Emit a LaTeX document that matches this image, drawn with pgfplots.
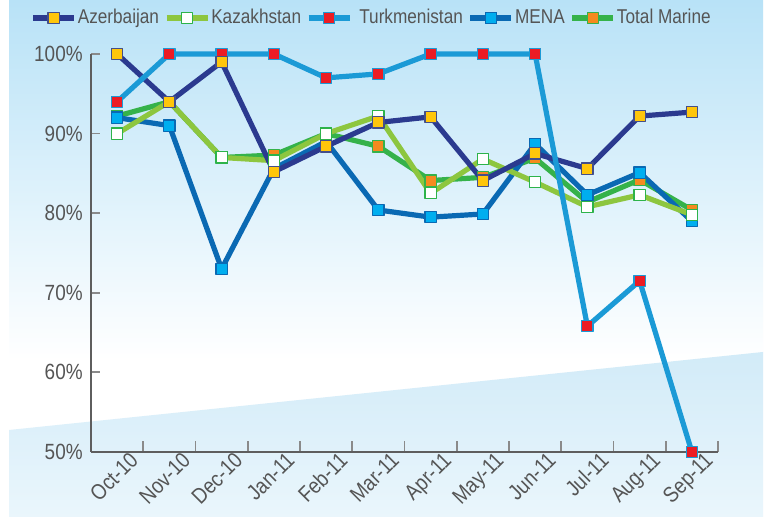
\documentclass[border=0pt]{standalone}
\usepackage{fontspec}
\setmainfont[FakeStretch=0.86]{Liberation Sans}
\usepackage{pgfplots}
\pgfplotsset{compat=1.18}
\usepackage{pgfplotstable}

\definecolor{bgtop}{HTML}{B8E2F7}
\definecolor{wedgetop}{HTML}{D2EBF8}
\definecolor{wedgebot}{HTML}{EAF6FC}
\definecolor{axgray}{HTML}{5E5E5E}
\definecolor{tkgray}{HTML}{8A8A8A}
\definecolor{labgray}{HTML}{555555}
\definecolor{azl}{HTML}{2B3A8F}
\definecolor{azm}{HTML}{FFC60B}
\definecolor{kzl}{HTML}{8DC63F}
\definecolor{kzb}{HTML}{2DB34A}
\definecolor{tkl}{HTML}{1B9AD6}
\definecolor{tkm}{HTML}{EC1C24}
\definecolor{mel}{HTML}{0A69B3}
\definecolor{mem}{HTML}{00AEEF}
\definecolor{tml}{HTML}{35B24A}
\definecolor{tmm}{HTML}{F58A1F}

\pgfplotstableread{
x az kz tk mena tm
0 100 90.0 94.0 92.0 92.2
1 94.0 94.0 100 91.0 94.0
2 99.0 87.0 100 73.0 87.0
3 85.2 86.6 100 85.6 87.3
4 88.4 90.0 97.0 89.0 90.0
5 91.4 92.2 97.5 80.4 88.4
6 92.1 82.5 100 79.5 84.1
7 84.1 86.8 100 79.9 84.5
8 87.5 83.9 100 88.7 86.9
9 85.6 80.8 65.8 82.3 81.4
10 92.2 82.3 71.5 85.1 84.2
11 92.7 79.8 50.0 79.0 80.4
}\data

\begin{document}
\begin{tikzpicture}
\useasboundingbox (0,0) rectangle (382.5pt,261pt);
\fill[white] (0,0) rectangle (382.5pt,261pt);
\shade[top color=bgtop,bottom color=white] (4.5pt,81pt) rectangle (381.5pt,261pt);
\fill[white] (4.5pt,2.5pt) rectangle (381.5pt,81pt);
\shade[top color=wedgetop,bottom color=wedgebot] (4.5pt,46pt) -- (381.5pt,85pt) -- (381.5pt,2.5pt) -- (4.5pt,2.5pt) -- cycle;
\begin{axis}[
  at={(45.5pt,35pt)}, anchor=south west,
  scale only axis, width=313.5pt, height=199pt,
  xmin=-0.5, xmax=11.5, ymin=50, ymax=100,
  clip=false,
  axis x line*=bottom, axis y line*=left,
  axis line style={draw=axgray, line width=1pt},
  tick align=inside,
  xtick={0,...,11},
  xticklabels={Oct-10,Nov-10,Dec-10,Jan-11,Feb-11,Mar-11,Apr-11,May-11,Jun-11,Jul-11,Aug-11,Sep-11},
  every major x tick/.append style={draw=none},
  minor xtick={0.5,1.5,2.5,3.5,4.5,5.5,6.5,7.5,8.5,9.5,10.5,11.5},
  minor tick length=5.5pt,
  major tick length=4.5pt,
  every tick/.append style={draw=tkgray, line width=0.9pt},
  ytick={50,60,70,80,90,100},
  yticklabels={50\%,60\%,70\%,80\%,90\%,100\%},
  yticklabel style={font=\fontsize{11}{12}\selectfont, color=labgray, inner sep=1pt, xshift=-3pt},
  xticklabel style={font=\fontsize{11}{12}\selectfont, color=labgray, rotate=45, anchor=north east, xshift=5.5pt, yshift=-2.5pt, inner sep=1pt},
  legend columns=5,
  legend style={at={(-0.097,1.0905)}, anchor=west, draw=none, fill=none,
    font=\fontsize{10}{12}\selectfont, text=labgray, inner sep=0pt,
    nodes={inner sep=1.5pt},
    /tikz/every odd column/.append style={column sep=-1pt},
    /tikz/every even column/.append style={column sep=1pt}},
  legend image code/.code={\draw[mark repeat=2,mark phase=2,#1] plot coordinates {(0pt,0pt)(10.25pt,0pt)(20.5pt,0pt)};},
  every axis plot/.append style={line width=2.6pt, line join=round},
]
\addlegendimage{azl, mark=square*, mark size=2.8pt, mark options={fill=azm, draw=azl!70!gray, line width=0.6pt}}
\addlegendentry{Azerbaijan}
\addlegendimage{kzl, mark=square*, mark size=2.8pt, mark options={fill=white, draw=kzb, line width=0.6pt}}
\addlegendentry{Kazakhstan}
\addlegendimage{tkl, mark=square*, mark size=2.8pt, mark options={fill=tkm, draw=tkl, line width=0.6pt}}
\addlegendentry{\hspace{3pt}Turkmenistan}
\addlegendimage{mel, mark=square*, mark size=2.8pt, mark options={fill=mem, draw=mel, line width=0.6pt}}
\addlegendentry{MENA}
\addlegendimage{tml, mark=square*, mark size=2.8pt, mark options={fill=tmm, draw=tml, line width=0.6pt}}
\addlegendentry{Total Marine}

% lines
\addplot[tml, forget plot] table[x=x,y=tm] {\data};
\addplot[mel, forget plot] table[x=x,y=mena] {\data};
\addplot[kzl, forget plot] table[x=x,y=kz] {\data};
\addplot[azl, forget plot] table[x=x,y=az] {\data};
\addplot[tkl, forget plot] table[x=x,y=tk] {\data};
% markers
\addplot[only marks, forget plot, mark=square*, mark size=2.8pt, mark options={fill=tmm, draw=tml, line width=0.6pt}] table[x=x,y=tm] {\data};
\addplot[only marks, forget plot, mark=square*, mark size=2.8pt, mark options={fill=mem, draw=mel, line width=0.6pt}] table[x=x,y=mena] {\data};
\addplot[only marks, forget plot, mark=square*, mark size=2.8pt, mark options={fill=tkm, draw=tkl, line width=0.6pt}] table[x=x,y=tk] {\data};
\addplot[only marks, forget plot, mark=square*, mark size=2.8pt, mark options={fill=white, draw=kzb, line width=0.6pt}] table[x=x,y=kz] {\data};
\addplot[only marks, forget plot, mark=square*, mark size=2.8pt, mark options={fill=azm, draw=azl!70!gray, line width=0.6pt}] table[x=x,y=az] {\data};
\end{axis}
\end{tikzpicture}
\end{document}
